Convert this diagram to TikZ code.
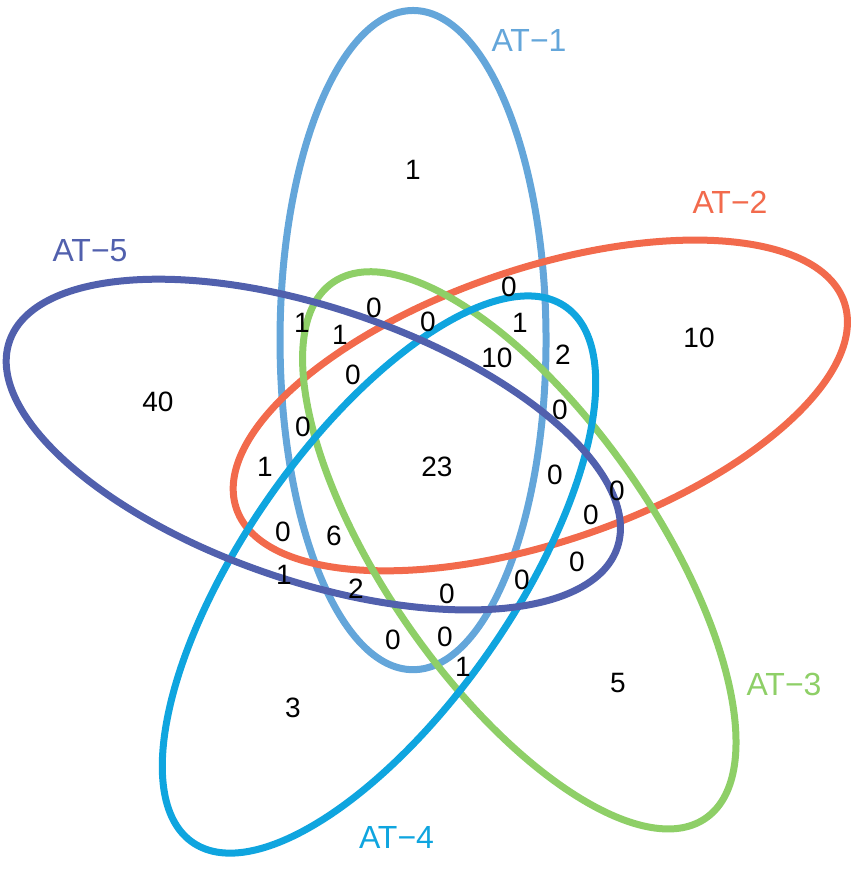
\documentclass[tikz,border=0pt]{standalone}
\usepackage{fontspec}
\setmainfont{Liberation Sans}
\definecolor{cA}{HTML}{64A6DA}
\definecolor{cB}{HTML}{F26A4C}
\definecolor{cC}{HTML}{8ECF67}
\definecolor{cD}{HTML}{0FA5DF}
\definecolor{cE}{HTML}{5160AD}
\begin{document}
\begin{tikzpicture}[x=1pt,y=1pt,
  num/.style={inner sep=0pt, font=\fontsize{28}{28}\selectfont},
  setlabel/.style={inner sep=0pt, font=\fontsize{32}{32}\selectfont},
  venn/.style={line width=7pt}]
\useasboundingbox (0,0) rectangle (851,871);
\begin{scope}[shift={(433,408)}, yscale=1.03]
\draw[venn, cA, shift={(99.5:121)}, rotate=90] (0,0) ellipse [x radius=320, y radius=133];
\draw[venn, cB, shift={(27.5:121)}, rotate=18] (0,0) ellipse [x radius=320, y radius=133];
\draw[venn, cC, shift={(-44.5:121)}, rotate=-54] (0,0) ellipse [x radius=320, y radius=133];
\draw[venn, cD, shift={(-116.5:121)}, rotate=-126] (0,0) ellipse [x radius=320, y radius=133];
\draw[venn, cE, shift={(171.5:121)}, rotate=162] (0,0) ellipse [x radius=320, y radius=133];
\end{scope}
% set labels
\node[setlabel, text=cA] (l1) at (529,830.5) {AT−1};
\node[setlabel, text=cB] (l2) at (730,668.5) {AT−2};
\node[setlabel, text=cC] (l3) at (784,186.5) {AT−3};
\node[setlabel, text=cD] (l4) at (396.5,33.5) {AT−4};
\node[setlabel, text=cE] (l5) at (90,620.5) {AT−5};
% region counts
\node[num] (n1) at (413,701) {1};
\node[num] (n2) at (699,533) {10};
\node[num] (n3) at (618,188) {5};
\node[num] (n4) at (293,163) {3};
\node[num] (n5) at (158,469) {40};
\node[num] (n6) at (437,404) {23};
\node[num] (n7) at (509,584) {0};
\node[num] (n8) at (374,563) {0};
\node[num] (n9) at (428,549) {0};
\node[num] (n10) at (302,548) {1};
\node[num] (n11) at (340,536) {1};
\node[num] (n12) at (520,548) {1};
\node[num] (n13) at (497,513) {10};
\node[num] (n14) at (563,516) {2};
\node[num] (n15) at (353,496) {0};
\node[num] (n16) at (560,461) {0};
\node[num] (n17) at (303,444) {0};
\node[num] (n18) at (265,404) {1};
\node[num] (n19) at (555,396) {0};
\node[num] (n20) at (617,380) {0};
\node[num] (n21) at (591,356) {0};
\node[num] (n22) at (283,339) {0};
\node[num] (n23) at (334,335) {6};
\node[num] (n24) at (577,309) {0};
\node[num] (n25) at (522,291) {0};
\node[num] (n26) at (284,296) {1};
\node[num] (n27) at (356,282) {2};
\node[num] (n28) at (447,277) {0};
\node[num] (n29) at (393,231) {0};
\node[num] (n30) at (445,234) {0};
\node[num] (n31) at (463,204) {1};
\end{tikzpicture}
\end{document}
